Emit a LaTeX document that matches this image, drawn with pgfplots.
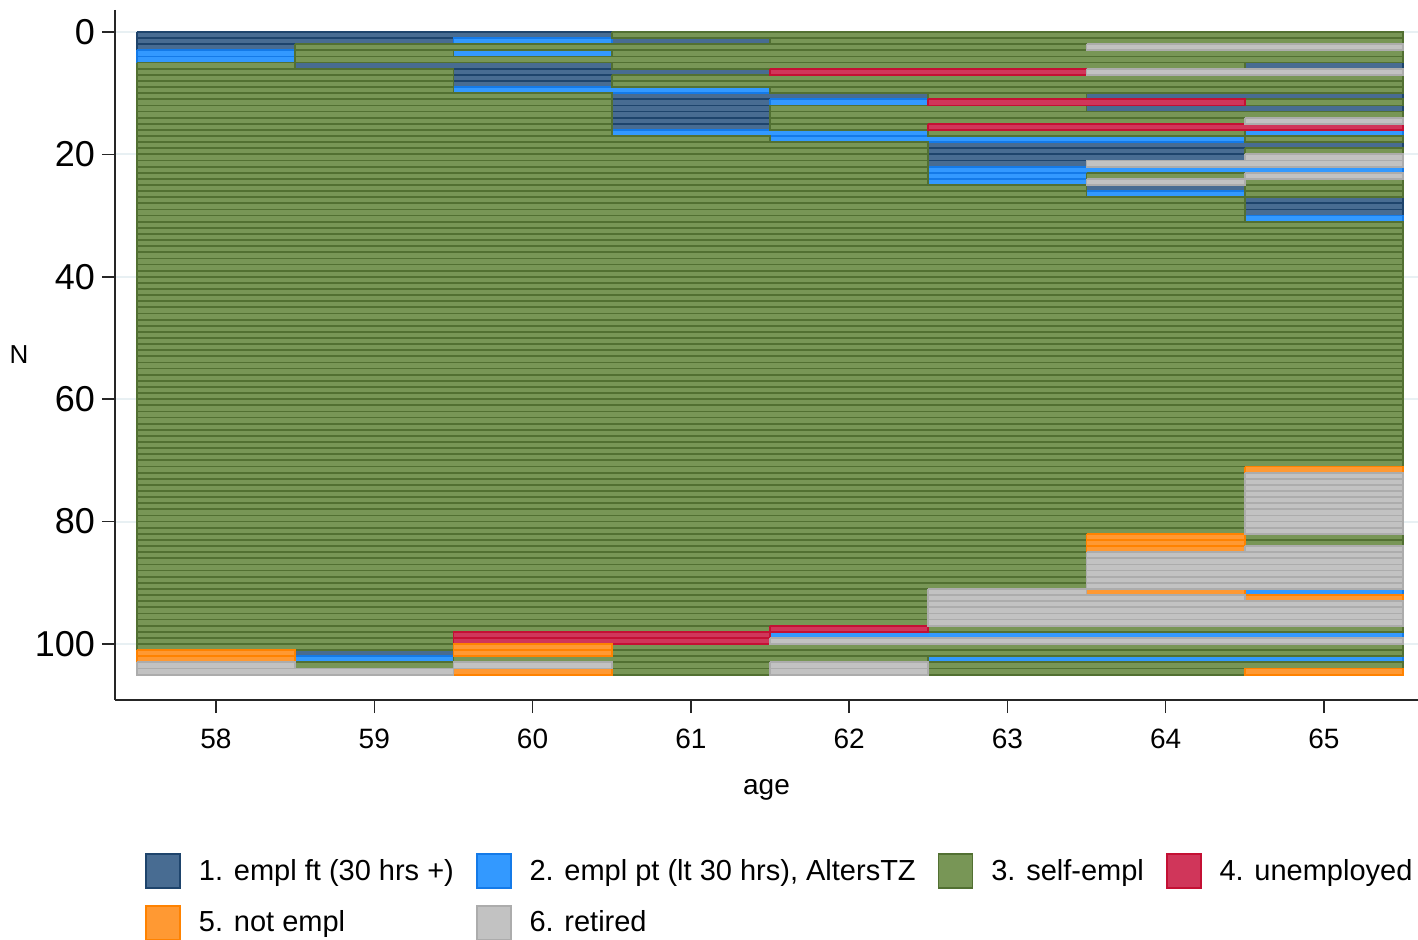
\documentclass[border=0pt]{standalone}
\usepackage{pgfplots}
\pgfplotsset{compat=1.18}
\usepackage{fontspec}
\setmainfont{Liberation Sans}
\definecolor{cAf}{RGB}{72,108,146}
\definecolor{cAd}{RGB}{30,68,108}
\definecolor{cBf}{RGB}{51,153,255}
\definecolor{cBd}{RGB}{20,122,232}
\definecolor{cCf}{RGB}{120,150,86}
\definecolor{cCd}{RGB}{82,112,50}
\definecolor{cDf}{RGB}{208,54,90}
\definecolor{cDd}{RGB}{196,16,52}
\definecolor{cEf}{RGB}{255,153,51}
\definecolor{cEd}{RGB}{255,130,0}
\definecolor{cFf}{RGB}{194,194,194}
\definecolor{cFd}{RGB}{172,172,172}
\definecolor{gridc}{RGB}{232,240,243}
\begin{document}
\begin{tikzpicture}
\begin{axis}[name=ax,
  scale only axis, width=651.5pt, height=345pt,
  xmin=57.362, xmax=65.594, ymin=-3.59, ymax=109.15, y dir=reverse,
  axis x line*=bottom, axis y line*=left,
  axis line style={line width=0.75pt, color=black!85},
  xtick={58,59,60,61,62,63,64,65}, ytick={0,20,40,60,80,100},
  tick align=outside, major tick length=6.5pt,
  major tick style={line width=0.75pt, color=black!85},
  ymajorgrids, grid style={color=gridc, line width=1pt},
  unbounded coords=jump,
  /pgf/number format/assume math mode=true,
  xticklabel style={font=\fontsize{14}{16}\selectfont, yshift=-4.5pt},
  yticklabel style={font=\fontsize{18}{20}\selectfont},
  xlabel={age}, ylabel={N},
  every axis x label/.style={at={(axis description cs:0.5,0)}, anchor=center, yshift=-45pt, font=\fontsize{14}{16}\selectfont},
  every axis y label/.style={at={(axis description cs:0,0.5)}, anchor=center, xshift=-48pt, font=\fontsize{13}{15}\selectfont},
  legend columns=4,
  legend style={at={(axis description cs:0,0)}, anchor=north west, xshift=15pt, yshift=-76.5pt,
    draw=none, fill=none, font=\fontsize{14.5}{17}\selectfont, inner sep=0pt,
    /tikz/every odd column/.append style={column sep=7pt},
    /tikz/every even column/.append style={column sep=9pt}, row sep=8pt},
  legend cell align=left,
  legend image code/.code={\draw[#1, line width=0.8pt] (0pt,-8.5pt) rectangle (17pt,8.5pt);},
]
% 1. empl ft
\addplot[fill=cAf, draw=cAd, line width=0.9pt] coordinates {
(57.5,0)(60.5,0)(60.5,1)(57.5,1)(57.5,0)(nan,nan)
(57.5,1)(59.5,1)(59.5,2)(57.5,2)(57.5,1)(nan,nan)
(60.5,1)(61.5,1)(61.5,2)(60.5,2)(60.5,1)(nan,nan)
(57.5,2)(58.5,2)(58.5,3)(57.5,3)(57.5,2)(nan,nan)
(58.5,5)(60.5,5)(60.5,6)(58.5,6)(58.5,5)(nan,nan)
(64.5,5)(65.5,5)(65.5,6)(64.5,6)(64.5,5)(nan,nan)
(59.5,6)(61.5,6)(61.5,7)(59.5,7)(59.5,6)(nan,nan)
(59.5,7)(60.5,7)(60.5,8)(59.5,8)(59.5,7)(nan,nan)
(59.5,8)(60.5,8)(60.5,9)(59.5,9)(59.5,8)(nan,nan)
(60.5,10)(62.5,10)(62.5,11)(60.5,11)(60.5,10)(nan,nan)
(63.5,10)(65.5,10)(65.5,11)(63.5,11)(63.5,10)(nan,nan)
(60.5,11)(61.5,11)(61.5,12)(60.5,12)(60.5,11)(nan,nan)
(60.5,12)(61.5,12)(61.5,13)(60.5,13)(60.5,12)(nan,nan)
(63.5,12)(65.5,12)(65.5,13)(63.5,13)(63.5,12)(nan,nan)
(60.5,13)(61.5,13)(61.5,14)(60.5,14)(60.5,13)(nan,nan)
(60.5,14)(61.5,14)(61.5,15)(60.5,15)(60.5,14)(nan,nan)
(60.5,15)(61.5,15)(61.5,16)(60.5,16)(60.5,15)(nan,nan)
(62.5,18)(65.5,18)(65.5,19)(62.5,19)(62.5,18)(nan,nan)
(62.5,19)(64.5,19)(64.5,20)(62.5,20)(62.5,19)(nan,nan)
(62.5,20)(64.5,20)(64.5,21)(62.5,21)(62.5,20)(nan,nan)
(62.5,21)(63.5,21)(63.5,22)(62.5,22)(62.5,21)(nan,nan)
(63.5,25)(64.5,25)(64.5,26)(63.5,26)(63.5,25)(nan,nan)
(64.5,27)(65.5,27)(65.5,28)(64.5,28)(64.5,27)(nan,nan)
(64.5,28)(65.5,28)(65.5,29)(64.5,29)(64.5,28)(nan,nan)
(64.5,29)(65.5,29)(65.5,30)(64.5,30)(64.5,29)(nan,nan)
(58.5,101)(59.5,101)(59.5,102)(58.5,102)(58.5,101)(nan,nan)
};
\addlegendentry{1. empl ft (30 hrs +)}
% 2. empl pt
\addplot[fill=cBf, draw=cBd, line width=0.9pt] coordinates {
(59.5,1)(60.5,1)(60.5,2)(59.5,2)(59.5,1)(nan,nan)
(57.5,3)(58.5,3)(58.5,4)(57.5,4)(57.5,3)(nan,nan)
(59.5,3)(60.5,3)(60.5,4)(59.5,4)(59.5,3)(nan,nan)
(57.5,4)(58.5,4)(58.5,5)(57.5,5)(57.5,4)(nan,nan)
(59.5,9)(61.5,9)(61.5,10)(59.5,10)(59.5,9)(nan,nan)
(61.5,11)(62.5,11)(62.5,12)(61.5,12)(61.5,11)(nan,nan)
(60.5,16)(62.5,16)(62.5,17)(60.5,17)(60.5,16)(nan,nan)
(64.5,16)(65.5,16)(65.5,17)(64.5,17)(64.5,16)(nan,nan)
(61.5,17)(64.5,17)(64.5,18)(61.5,18)(61.5,17)(nan,nan)
(62.5,22)(65.5,22)(65.5,23)(62.5,23)(62.5,22)(nan,nan)
(62.5,23)(63.5,23)(63.5,24)(62.5,24)(62.5,23)(nan,nan)
(62.5,24)(63.5,24)(63.5,25)(62.5,25)(62.5,24)(nan,nan)
(63.5,26)(64.5,26)(64.5,27)(63.5,27)(63.5,26)(nan,nan)
(64.5,30)(65.5,30)(65.5,31)(64.5,31)(64.5,30)(nan,nan)
(64.5,91)(65.5,91)(65.5,92)(64.5,92)(64.5,91)(nan,nan)
(61.5,98)(65.5,98)(65.5,99)(61.5,99)(61.5,98)(nan,nan)
(58.5,102)(59.5,102)(59.5,103)(58.5,103)(58.5,102)(nan,nan)
(62.5,102)(65.5,102)(65.5,103)(62.5,103)(62.5,102)(nan,nan)
};
\addlegendentry{2. empl pt (lt 30 hrs), AltersTZ}
% 3. self-empl
\addplot[fill=cCf, draw=cCd, line width=0.9pt] coordinates {
(60.5,0)(65.5,0)(65.5,1)(60.5,1)(60.5,0)(nan,nan)
(61.5,1)(65.5,1)(65.5,2)(61.5,2)(61.5,1)(nan,nan)
(58.5,2)(63.5,2)(63.5,3)(58.5,3)(58.5,2)(nan,nan)
(58.5,3)(59.5,3)(59.5,4)(58.5,4)(58.5,3)(nan,nan)
(60.5,3)(65.5,3)(65.5,4)(60.5,4)(60.5,3)(nan,nan)
(58.5,4)(65.5,4)(65.5,5)(58.5,5)(58.5,4)(nan,nan)
(57.5,5)(58.5,5)(58.5,6)(57.5,6)(57.5,5)(nan,nan)
(60.5,5)(64.5,5)(64.5,6)(60.5,6)(60.5,5)(nan,nan)
(57.5,6)(59.5,6)(59.5,7)(57.5,7)(57.5,6)(nan,nan)
(57.5,7)(59.5,7)(59.5,8)(57.5,8)(57.5,7)(nan,nan)
(60.5,7)(65.5,7)(65.5,8)(60.5,8)(60.5,7)(nan,nan)
(57.5,8)(59.5,8)(59.5,9)(57.5,9)(57.5,8)(nan,nan)
(60.5,8)(65.5,8)(65.5,9)(60.5,9)(60.5,8)(nan,nan)
(57.5,9)(59.5,9)(59.5,10)(57.5,10)(57.5,9)(nan,nan)
(61.5,9)(65.5,9)(65.5,10)(61.5,10)(61.5,9)(nan,nan)
(57.5,10)(60.5,10)(60.5,11)(57.5,11)(57.5,10)(nan,nan)
(62.5,10)(63.5,10)(63.5,11)(62.5,11)(62.5,10)(nan,nan)
(57.5,11)(60.5,11)(60.5,12)(57.5,12)(57.5,11)(nan,nan)
(64.5,11)(65.5,11)(65.5,12)(64.5,12)(64.5,11)(nan,nan)
(57.5,12)(60.5,12)(60.5,13)(57.5,13)(57.5,12)(nan,nan)
(61.5,12)(63.5,12)(63.5,13)(61.5,13)(61.5,12)(nan,nan)
(57.5,13)(60.5,13)(60.5,14)(57.5,14)(57.5,13)(nan,nan)
(61.5,13)(65.5,13)(65.5,14)(61.5,14)(61.5,13)(nan,nan)
(57.5,14)(60.5,14)(60.5,15)(57.5,15)(57.5,14)(nan,nan)
(61.5,14)(64.5,14)(64.5,15)(61.5,15)(61.5,14)(nan,nan)
(57.5,15)(60.5,15)(60.5,16)(57.5,16)(57.5,15)(nan,nan)
(61.5,15)(62.5,15)(62.5,16)(61.5,16)(61.5,15)(nan,nan)
(57.5,16)(60.5,16)(60.5,17)(57.5,17)(57.5,16)(nan,nan)
(62.5,16)(64.5,16)(64.5,17)(62.5,17)(62.5,16)(nan,nan)
(57.5,17)(61.5,17)(61.5,18)(57.5,18)(57.5,17)(nan,nan)
(64.5,17)(65.5,17)(65.5,18)(64.5,18)(64.5,17)(nan,nan)
(57.5,18)(62.5,18)(62.5,19)(57.5,19)(57.5,18)(nan,nan)
(57.5,19)(62.5,19)(62.5,20)(57.5,20)(57.5,19)(nan,nan)
(64.5,19)(65.5,19)(65.5,20)(64.5,20)(64.5,19)(nan,nan)
(57.5,20)(62.5,20)(62.5,21)(57.5,21)(57.5,20)(nan,nan)
(57.5,21)(62.5,21)(62.5,22)(57.5,22)(57.5,21)(nan,nan)
(57.5,22)(62.5,22)(62.5,23)(57.5,23)(57.5,22)(nan,nan)
(57.5,23)(62.5,23)(62.5,24)(57.5,24)(57.5,23)(nan,nan)
(63.5,23)(64.5,23)(64.5,24)(63.5,24)(63.5,23)(nan,nan)
(57.5,24)(62.5,24)(62.5,25)(57.5,25)(57.5,24)(nan,nan)
(64.5,24)(65.5,24)(65.5,25)(64.5,25)(64.5,24)(nan,nan)
(57.5,25)(63.5,25)(63.5,26)(57.5,26)(57.5,25)(nan,nan)
(64.5,25)(65.5,25)(65.5,26)(64.5,26)(64.5,25)(nan,nan)
(57.5,26)(63.5,26)(63.5,27)(57.5,27)(57.5,26)(nan,nan)
(64.5,26)(65.5,26)(65.5,27)(64.5,27)(64.5,26)(nan,nan)
(57.5,27)(64.5,27)(64.5,28)(57.5,28)(57.5,27)(nan,nan)
(57.5,28)(64.5,28)(64.5,29)(57.5,29)(57.5,28)(nan,nan)
(57.5,29)(64.5,29)(64.5,30)(57.5,30)(57.5,29)(nan,nan)
(57.5,30)(64.5,30)(64.5,31)(57.5,31)(57.5,30)(nan,nan)
(57.5,31)(65.5,31)(65.5,32)(57.5,32)(57.5,31)(nan,nan)
(57.5,32)(65.5,32)(65.5,33)(57.5,33)(57.5,32)(nan,nan)
(57.5,33)(65.5,33)(65.5,34)(57.5,34)(57.5,33)(nan,nan)
(57.5,34)(65.5,34)(65.5,35)(57.5,35)(57.5,34)(nan,nan)
(57.5,35)(65.5,35)(65.5,36)(57.5,36)(57.5,35)(nan,nan)
(57.5,36)(65.5,36)(65.5,37)(57.5,37)(57.5,36)(nan,nan)
(57.5,37)(65.5,37)(65.5,38)(57.5,38)(57.5,37)(nan,nan)
(57.5,38)(65.5,38)(65.5,39)(57.5,39)(57.5,38)(nan,nan)
(57.5,39)(65.5,39)(65.5,40)(57.5,40)(57.5,39)(nan,nan)
(57.5,40)(65.5,40)(65.5,41)(57.5,41)(57.5,40)(nan,nan)
(57.5,41)(65.5,41)(65.5,42)(57.5,42)(57.5,41)(nan,nan)
(57.5,42)(65.5,42)(65.5,43)(57.5,43)(57.5,42)(nan,nan)
(57.5,43)(65.5,43)(65.5,44)(57.5,44)(57.5,43)(nan,nan)
(57.5,44)(65.5,44)(65.5,45)(57.5,45)(57.5,44)(nan,nan)
(57.5,45)(65.5,45)(65.5,46)(57.5,46)(57.5,45)(nan,nan)
(57.5,46)(65.5,46)(65.5,47)(57.5,47)(57.5,46)(nan,nan)
(57.5,47)(65.5,47)(65.5,48)(57.5,48)(57.5,47)(nan,nan)
(57.5,48)(65.5,48)(65.5,49)(57.5,49)(57.5,48)(nan,nan)
(57.5,49)(65.5,49)(65.5,50)(57.5,50)(57.5,49)(nan,nan)
(57.5,50)(65.5,50)(65.5,51)(57.5,51)(57.5,50)(nan,nan)
(57.5,51)(65.5,51)(65.5,52)(57.5,52)(57.5,51)(nan,nan)
(57.5,52)(65.5,52)(65.5,53)(57.5,53)(57.5,52)(nan,nan)
(57.5,53)(65.5,53)(65.5,54)(57.5,54)(57.5,53)(nan,nan)
(57.5,54)(65.5,54)(65.5,55)(57.5,55)(57.5,54)(nan,nan)
(57.5,55)(65.5,55)(65.5,56)(57.5,56)(57.5,55)(nan,nan)
(57.5,56)(65.5,56)(65.5,57)(57.5,57)(57.5,56)(nan,nan)
(57.5,57)(65.5,57)(65.5,58)(57.5,58)(57.5,57)(nan,nan)
(57.5,58)(65.5,58)(65.5,59)(57.5,59)(57.5,58)(nan,nan)
(57.5,59)(65.5,59)(65.5,60)(57.5,60)(57.5,59)(nan,nan)
(57.5,60)(65.5,60)(65.5,61)(57.5,61)(57.5,60)(nan,nan)
(57.5,61)(65.5,61)(65.5,62)(57.5,62)(57.5,61)(nan,nan)
(57.5,62)(65.5,62)(65.5,63)(57.5,63)(57.5,62)(nan,nan)
(57.5,63)(65.5,63)(65.5,64)(57.5,64)(57.5,63)(nan,nan)
(57.5,64)(65.5,64)(65.5,65)(57.5,65)(57.5,64)(nan,nan)
(57.5,65)(65.5,65)(65.5,66)(57.5,66)(57.5,65)(nan,nan)
(57.5,66)(65.5,66)(65.5,67)(57.5,67)(57.5,66)(nan,nan)
(57.5,67)(65.5,67)(65.5,68)(57.5,68)(57.5,67)(nan,nan)
(57.5,68)(65.5,68)(65.5,69)(57.5,69)(57.5,68)(nan,nan)
(57.5,69)(65.5,69)(65.5,70)(57.5,70)(57.5,69)(nan,nan)
(57.5,70)(65.5,70)(65.5,71)(57.5,71)(57.5,70)(nan,nan)
(57.5,71)(64.5,71)(64.5,72)(57.5,72)(57.5,71)(nan,nan)
(57.5,72)(64.5,72)(64.5,73)(57.5,73)(57.5,72)(nan,nan)
(57.5,73)(64.5,73)(64.5,74)(57.5,74)(57.5,73)(nan,nan)
(57.5,74)(64.5,74)(64.5,75)(57.5,75)(57.5,74)(nan,nan)
(57.5,75)(64.5,75)(64.5,76)(57.5,76)(57.5,75)(nan,nan)
(57.5,76)(64.5,76)(64.5,77)(57.5,77)(57.5,76)(nan,nan)
(57.5,77)(64.5,77)(64.5,78)(57.5,78)(57.5,77)(nan,nan)
(57.5,78)(64.5,78)(64.5,79)(57.5,79)(57.5,78)(nan,nan)
(57.5,79)(64.5,79)(64.5,80)(57.5,80)(57.5,79)(nan,nan)
(57.5,80)(64.5,80)(64.5,81)(57.5,81)(57.5,80)(nan,nan)
(57.5,81)(64.5,81)(64.5,82)(57.5,82)(57.5,81)(nan,nan)
(57.5,82)(63.5,82)(63.5,83)(57.5,83)(57.5,82)(nan,nan)
(64.5,82)(65.5,82)(65.5,83)(64.5,83)(64.5,82)(nan,nan)
(57.5,83)(63.5,83)(63.5,84)(57.5,84)(57.5,83)(nan,nan)
(64.5,83)(65.5,83)(65.5,84)(64.5,84)(64.5,83)(nan,nan)
(57.5,84)(63.5,84)(63.5,85)(57.5,85)(57.5,84)(nan,nan)
(57.5,85)(63.5,85)(63.5,86)(57.5,86)(57.5,85)(nan,nan)
(57.5,86)(63.5,86)(63.5,87)(57.5,87)(57.5,86)(nan,nan)
(57.5,87)(63.5,87)(63.5,88)(57.5,88)(57.5,87)(nan,nan)
(57.5,88)(63.5,88)(63.5,89)(57.5,89)(57.5,88)(nan,nan)
(57.5,89)(63.5,89)(63.5,90)(57.5,90)(57.5,89)(nan,nan)
(57.5,90)(63.5,90)(63.5,91)(57.5,91)(57.5,90)(nan,nan)
(57.5,91)(62.5,91)(62.5,92)(57.5,92)(57.5,91)(nan,nan)
(57.5,92)(62.5,92)(62.5,93)(57.5,93)(57.5,92)(nan,nan)
(57.5,93)(62.5,93)(62.5,94)(57.5,94)(57.5,93)(nan,nan)
(57.5,94)(62.5,94)(62.5,95)(57.5,95)(57.5,94)(nan,nan)
(57.5,95)(62.5,95)(62.5,96)(57.5,96)(57.5,95)(nan,nan)
(57.5,96)(62.5,96)(62.5,97)(57.5,97)(57.5,96)(nan,nan)
(57.5,97)(61.5,97)(61.5,98)(57.5,98)(57.5,97)(nan,nan)
(62.5,97)(65.5,97)(65.5,98)(62.5,98)(62.5,97)(nan,nan)
(57.5,98)(59.5,98)(59.5,99)(57.5,99)(57.5,98)(nan,nan)
(57.5,99)(59.5,99)(59.5,100)(57.5,100)(57.5,99)(nan,nan)
(57.5,100)(59.5,100)(59.5,101)(57.5,101)(57.5,100)(nan,nan)
(60.5,100)(65.5,100)(65.5,101)(60.5,101)(60.5,100)(nan,nan)
(60.5,101)(65.5,101)(65.5,102)(60.5,102)(60.5,101)(nan,nan)
(59.5,102)(62.5,102)(62.5,103)(59.5,103)(59.5,102)(nan,nan)
(58.5,103)(59.5,103)(59.5,104)(58.5,104)(58.5,103)(nan,nan)
(60.5,103)(61.5,103)(61.5,104)(60.5,104)(60.5,103)(nan,nan)
(62.5,103)(65.5,103)(65.5,104)(62.5,104)(62.5,103)(nan,nan)
(60.5,104)(61.5,104)(61.5,105)(60.5,105)(60.5,104)(nan,nan)
(62.5,104)(64.5,104)(64.5,105)(62.5,105)(62.5,104)(nan,nan)
};
\addlegendentry{3. self-empl}
% 4. unemployed
\addplot[fill=cDf, draw=cDd, line width=0.9pt] coordinates {
(61.5,6)(63.5,6)(63.5,7)(61.5,7)(61.5,6)(nan,nan)
(62.5,11)(64.5,11)(64.5,12)(62.5,12)(62.5,11)(nan,nan)
(62.5,15)(65.5,15)(65.5,16)(62.5,16)(62.5,15)(nan,nan)
(61.5,97)(62.5,97)(62.5,98)(61.5,98)(61.5,97)(nan,nan)
(59.5,98)(61.5,98)(61.5,99)(59.5,99)(59.5,98)(nan,nan)
(59.5,99)(61.5,99)(61.5,100)(59.5,100)(59.5,99)(nan,nan)
};
\addlegendentry{4. unemployed}
% 5. not empl
\addplot[fill=cEf, draw=cEd, line width=0.9pt] coordinates {
(64.5,71)(65.5,71)(65.5,72)(64.5,72)(64.5,71)(nan,nan)
(63.5,82)(64.5,82)(64.5,83)(63.5,83)(63.5,82)(nan,nan)
(63.5,83)(64.5,83)(64.5,84)(63.5,84)(63.5,83)(nan,nan)
(63.5,84)(64.5,84)(64.5,85)(63.5,85)(63.5,84)(nan,nan)
(63.5,91)(64.5,91)(64.5,92)(63.5,92)(63.5,91)(nan,nan)
(64.5,92)(65.5,92)(65.5,93)(64.5,93)(64.5,92)(nan,nan)
(59.5,100)(60.5,100)(60.5,101)(59.5,101)(59.5,100)(nan,nan)
(57.5,101)(58.5,101)(58.5,102)(57.5,102)(57.5,101)(nan,nan)
(59.5,101)(60.5,101)(60.5,102)(59.5,102)(59.5,101)(nan,nan)
(57.5,102)(58.5,102)(58.5,103)(57.5,103)(57.5,102)(nan,nan)
(59.5,104)(60.5,104)(60.5,105)(59.5,105)(59.5,104)(nan,nan)
(64.5,104)(65.5,104)(65.5,105)(64.5,105)(64.5,104)(nan,nan)
};
\addlegendentry{5. not empl}
% 6. retired
\addplot[fill=cFf, draw=cFd, line width=0.9pt] coordinates {
(63.5,2)(65.5,2)(65.5,3)(63.5,3)(63.5,2)(nan,nan)
(63.5,6)(65.5,6)(65.5,7)(63.5,7)(63.5,6)(nan,nan)
(64.5,14)(65.5,14)(65.5,15)(64.5,15)(64.5,14)(nan,nan)
(64.5,20)(65.5,20)(65.5,21)(64.5,21)(64.5,20)(nan,nan)
(63.5,21)(65.5,21)(65.5,22)(63.5,22)(63.5,21)(nan,nan)
(64.5,23)(65.5,23)(65.5,24)(64.5,24)(64.5,23)(nan,nan)
(63.5,24)(64.5,24)(64.5,25)(63.5,25)(63.5,24)(nan,nan)
(64.5,72)(65.5,72)(65.5,73)(64.5,73)(64.5,72)(nan,nan)
(64.5,73)(65.5,73)(65.5,74)(64.5,74)(64.5,73)(nan,nan)
(64.5,74)(65.5,74)(65.5,75)(64.5,75)(64.5,74)(nan,nan)
(64.5,75)(65.5,75)(65.5,76)(64.5,76)(64.5,75)(nan,nan)
(64.5,76)(65.5,76)(65.5,77)(64.5,77)(64.5,76)(nan,nan)
(64.5,77)(65.5,77)(65.5,78)(64.5,78)(64.5,77)(nan,nan)
(64.5,78)(65.5,78)(65.5,79)(64.5,79)(64.5,78)(nan,nan)
(64.5,79)(65.5,79)(65.5,80)(64.5,80)(64.5,79)(nan,nan)
(64.5,80)(65.5,80)(65.5,81)(64.5,81)(64.5,80)(nan,nan)
(64.5,81)(65.5,81)(65.5,82)(64.5,82)(64.5,81)(nan,nan)
(64.5,84)(65.5,84)(65.5,85)(64.5,85)(64.5,84)(nan,nan)
(63.5,85)(65.5,85)(65.5,86)(63.5,86)(63.5,85)(nan,nan)
(63.5,86)(65.5,86)(65.5,87)(63.5,87)(63.5,86)(nan,nan)
(63.5,87)(65.5,87)(65.5,88)(63.5,88)(63.5,87)(nan,nan)
(63.5,88)(65.5,88)(65.5,89)(63.5,89)(63.5,88)(nan,nan)
(63.5,89)(65.5,89)(65.5,90)(63.5,90)(63.5,89)(nan,nan)
(63.5,90)(65.5,90)(65.5,91)(63.5,91)(63.5,90)(nan,nan)
(62.5,91)(63.5,91)(63.5,92)(62.5,92)(62.5,91)(nan,nan)
(62.5,92)(64.5,92)(64.5,93)(62.5,93)(62.5,92)(nan,nan)
(62.5,93)(65.5,93)(65.5,94)(62.5,94)(62.5,93)(nan,nan)
(62.5,94)(65.5,94)(65.5,95)(62.5,95)(62.5,94)(nan,nan)
(62.5,95)(65.5,95)(65.5,96)(62.5,96)(62.5,95)(nan,nan)
(62.5,96)(65.5,96)(65.5,97)(62.5,97)(62.5,96)(nan,nan)
(61.5,99)(65.5,99)(65.5,100)(61.5,100)(61.5,99)(nan,nan)
(57.5,103)(58.5,103)(58.5,104)(57.5,104)(57.5,103)(nan,nan)
(59.5,103)(60.5,103)(60.5,104)(59.5,104)(59.5,103)(nan,nan)
(61.5,103)(62.5,103)(62.5,104)(61.5,104)(61.5,103)(nan,nan)
(57.5,104)(59.5,104)(59.5,105)(57.5,105)(57.5,104)(nan,nan)
(61.5,104)(62.5,104)(62.5,105)(61.5,105)(61.5,104)(nan,nan)
};
\addlegendentry{6. retired}
\end{axis}
\pgfresetboundingbox
\path[use as bounding box] ([xshift=-57.5pt,yshift=-120pt]ax.south west) rectangle ([yshift=5pt]ax.north east);
\end{tikzpicture}
\end{document}
